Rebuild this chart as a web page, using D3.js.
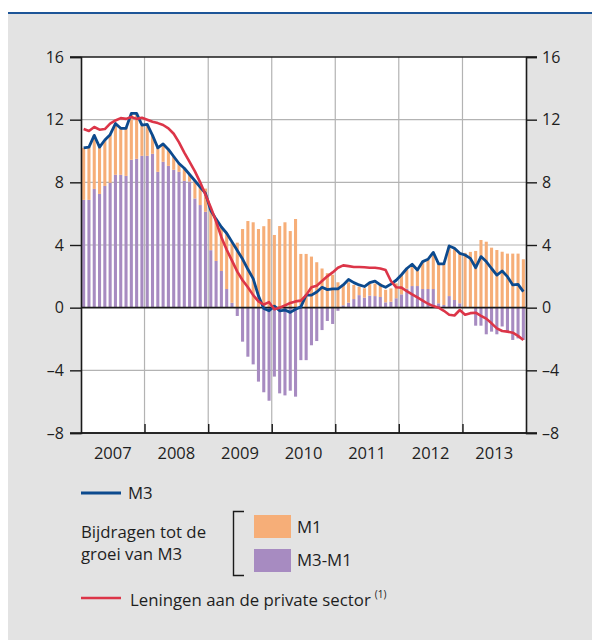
<!DOCTYPE html>
<html>
<head>
<meta charset="utf-8">
<script src="https://cdn.jsdelivr.net/npm/d3@7"></script>
<style>
  body { margin: 0; background: #fff; }
  svg { display: block; font-family: "Open Sans", sans-serif; }
</style>
</head>
<body>
<svg id="chart" width="592" height="640"></svg>
<script>
// jaren op de x-as
const years = [2007, 2008, 2009, 2010, 2011, 2012, 2013];

// bijdrage M1 (maandelijks, jan 2007 - dec 2013)
const m1 = [
  3.32, 3.37, 3.42, 3.0, 2.93, 3.07, 3.32, 3.02, 3.09, 2.96, 2.9, 1.91,
  2.01, 1.22, 1.53, 1.15, 1.03, 0.85, 0.55, 0.81, 0.45, 1.13, 1.15, 1.48,
  2.53, 2.67, 2.81, 3.56, 3.89, 4.15, 5.02, 5.53, 5.45, 5.02, 5.2, 5.66,
  4.64, 5.21, 5.45, 4.89, 5.66, 3.43, 3.43, 3.26, 2.9, 2.5, 2.2, 2.1,
  1.62, 1.35, 1.3, 0.9, 0.54, 0.6, 0.78, 0.8, 0.87, 0.8, 0.85, 0.95,
  1.25, 1.3, 1.4, 1.0, 1.75, 1.9, 2.34, 2.52, 2.63, 3.2, 3.3, 3.19,
  3.47, 3.53, 3.62, 4.32, 4.21, 3.83, 3.68, 3.57, 3.45, 3.45, 3.45, 3.09
];

// bijdrage M3-M1
const m3m1 = [
  6.88, 6.88, 7.58, 7.26, 7.77, 7.97, 8.48, 8.48, 8.41, 9.44, 9.5, 9.69,
  9.69, 9.82, 8.67, 9.31, 9.05, 8.8, 8.67, 8.09, 8.05, 6.97, 6.55, 6.12,
  3.67, 2.98, 2.34, 1.19, 0.31, -0.53, -2.17, -3.13, -3.62, -4.72, -5.4, -5.94,
  -4.4, -5.47, -5.6, -5.3, -5.68, -3.35, -3.35, -2.4, -2.13, -1.43, -0.85, -1.04,
  -0.2, 0.15, 0.32, 0.55, 0.8, 0.64, 0.77, 0.74, 0.68, 0.34, 0.38, 0.6,
  0.85, 1.21, 1.38, 1.38, 1.19, 1.19, 1.19, 0.28, 0.17, 0.74, 0.49, 0.28,
  0.03, 0.03, -1.15, -1.15, -1.7, -1.53, -1.7, -1.2, -1.57, -2.06, -1.96, -2.06
];

// groei M3
const m3 = [
  10.2, 10.25, 11.0, 10.25, 10.7, 11.04, 11.75, 11.45, 11.45, 12.4, 12.4, 11.65,
  11.7, 11.0, 10.2, 10.45, 10.1, 9.65, 9.2, 8.9, 8.5, 8.1, 7.7, 7.3,
  6.2, 5.65, 5.15, 4.75, 4.2, 3.65, 3.1, 2.45, 1.85, 0.75, -0.05, -0.2,
  0.1, -0.2, -0.15, -0.3, -0.1, 0.05, 0.8, 0.8, 1.0, 1.3, 1.15, 1.2,
  1.2, 1.45, 1.8, 1.6, 1.45, 1.35, 1.6, 1.7, 1.45, 1.3, 1.5, 1.75,
  2.1, 2.5, 2.77, 2.4, 2.94, 3.09, 3.53, 2.8, 2.8, 3.94, 3.79, 3.47,
  3.36, 3.15, 2.55, 3.26, 2.94, 2.5, 2.08, 2.34, 1.98, 1.45, 1.49, 1.02
];

// leningen aan de private sector
const loans = [
  11.4, 11.28, 11.53, 11.36, 11.4, 11.75, 11.95, 12.1, 12.05, 12.17, 12.05, 12.12,
  12.0, 11.87, 11.78, 11.66, 11.45, 11.1, 10.55, 9.9, 9.3, 8.7, 8.0, 7.2,
  6.4, 5.5, 4.5, 3.7, 3.0, 2.3, 1.75, 1.3, 0.8, 0.4, 0.2, 0.35,
  -0.1, 0.0, 0.15, 0.3, 0.4, 0.45, 0.8, 1.3, 1.4, 1.7, 2.0, 2.25,
  2.55, 2.7, 2.65, 2.6, 2.6, 2.58, 2.55, 2.55, 2.5, 2.4, 1.7, 1.3,
  1.28, 1.05, 0.85, 0.65, 0.45, 0.25, 0.1, 0.0, -0.2, -0.45, -0.5, -0.15,
  -0.45, -0.35, -0.32, -0.52, -0.7, -1.0, -1.32, -1.49, -1.53, -1.6, -1.8, -2.06
];

const yTicks = [-8, -4, 0, 4, 8, 12, 16];

const COLORS = {
  panel: "#e3e3e3",
  topLine: "#1d5598",
  grid: "#b3b3b3",
  axis: "#1a1a1a",
  text: "#1e1e1e",
  m1: "#f6ae78",
  m3m1: "#a78bc1",
  m3: "#0c4a8e",
  loans: "#dc3548"
};

const svg = d3.select("#chart");
const plot = { left: 81, right: 526, top: 57, bottom: 433 };

// achtergrond
svg.append("rect").attr("width", 592).attr("height", 640).attr("fill", "#fff");
svg.append("rect")
  .attr("x", 8).attr("y", 14).attr("width", 584).attr("height", 626)
  .attr("fill", COLORS.panel);
svg.append("line")
  .attr("x1", 8).attr("x2", 592).attr("y1", 13).attr("y2", 13)
  .attr("stroke", COLORS.topLine).attr("stroke-width", 2);

svg.append("rect")
  .attr("x", plot.left).attr("y", plot.top)
  .attr("width", plot.right - plot.left).attr("height", plot.bottom - plot.top)
  .attr("fill", "#fff");

// schalen
const months = d3.timeMonth.range(new Date(years[0], 0, 1), new Date(years[years.length - 1] + 1, 0, 1));
const x = d3.scaleTime()
  .domain([new Date(years[0], 0, 1), new Date(years[years.length - 1] + 1, 0, 1)])
  .range([plot.left, plot.right]);
const band = d3.scaleBand()
  .domain(d3.range(months.length))
  .range([plot.left, plot.right])
  .paddingInner(0.42)
  .paddingOuter(0.21);
const y = d3.scaleLinear().domain([-8, 16]).range([plot.bottom, plot.top]);

const fmt = d => (d < 0 ? "\u2013" + Math.abs(d) : String(d));

// rasterlijnen
const grid = svg.append("g");
grid.selectAll(".hgrid")
  .data(yTicks.filter(d => d !== 0 && d !== 16 && d !== -8))
  .join("line")
  .attr("x1", plot.left).attr("x2", plot.right)
  .attr("y1", d => y(d)).attr("y2", d => y(d))
  .attr("stroke", COLORS.grid).attr("stroke-width", 1.2);
grid.selectAll(".vgrid")
  .data(years.slice(1))
  .join("line")
  .attr("x1", d => x(new Date(d, 0, 1))).attr("x2", d => x(new Date(d, 0, 1)))
  .attr("y1", plot.top).attr("y2", plot.bottom)
  .attr("stroke", COLORS.grid).attr("stroke-width", 1.2);

// staven
const bars = svg.append("g");
const bw = band.bandwidth();
bars.selectAll(".b31")
  .data(m3m1)
  .join("rect")
  .attr("x", (_, i) => band(i))
  .attr("width", bw)
  .attr("y", d => y(Math.max(0, d)))
  .attr("height", d => Math.abs(y(d) - y(0)))
  .attr("fill", COLORS.m3m1);
bars.selectAll(".b1")
  .data(m1)
  .join("rect")
  .attr("x", (_, i) => band(i))
  .attr("width", bw)
  .attr("y", (d, i) => y(d + Math.max(0, m3m1[i])))
  .attr("height", d => y(0) - y(d))
  .attr("fill", COLORS.m1);

// assen
const axisG = svg.append("g");
axisG.append("line")
  .attr("x1", plot.left).attr("x2", plot.right).attr("y1", y(0)).attr("y2", y(0))
  .attr("stroke", COLORS.axis).attr("stroke-width", 1.6);

const leftAxis = axisG.append("g")
  .attr("transform", `translate(${plot.left},0)`)
  .call(d3.axisLeft(y).tickValues(yTicks).tickSize(11).tickPadding(6).tickFormat(fmt));
const rightAxis = axisG.append("g")
  .attr("transform", `translate(${plot.right},0)`)
  .call(d3.axisRight(y).tickValues(yTicks).tickSize(11).tickPadding(5).tickFormat(fmt));
const bottomAxis = axisG.append("g")
  .attr("transform", `translate(0,${plot.bottom})`)
  .call(d3.axisBottom(x)
    .tickValues(years.slice(1).map(d => new Date(d, 0, 1)))
    .tickSizeInner(-9).tickSizeOuter(0).tickFormat(""));

[leftAxis, rightAxis, bottomAxis].forEach(g => {
  g.select(".domain").attr("stroke", COLORS.axis).attr("stroke-width", 1.6);
  g.selectAll(".tick line").attr("stroke", COLORS.axis).attr("stroke-width", 1.4);
  g.selectAll("text")
    .attr("fill", COLORS.text)
    .style("font-size", "16px")
    .style("font-family", "'Open Sans', sans-serif");
});
bottomAxis.select(".domain").attr("d", `M${plot.left},0H${plot.right}`);
axisG.append("line")
  .attr("x1", plot.left - 11).attr("x2", plot.right + 11).attr("y1", plot.top).attr("y2", plot.top)
  .attr("stroke", COLORS.axis).attr("stroke-width", 1.6);
axisG.append("line")
  .attr("x1", plot.left - 11).attr("x2", plot.right + 11).attr("y1", plot.bottom).attr("y2", plot.bottom)
  .attr("stroke", COLORS.axis).attr("stroke-width", 1.6);

// jaarlabels in het midden van elk jaar
axisG.selectAll(".year")
  .data(years)
  .join("text")
  .attr("x", d => (x(new Date(d, 0, 1)) + x(new Date(d + 1, 0, 1))) / 2)
  .attr("y", 459)
  .attr("text-anchor", "middle")
  .attr("fill", COLORS.text)
  .style("font-size", "16.5px")
  .text(d => d);

// lijnen
const line = d3.line()
  .x((_, i) => band(i) + bw / 2)
  .y(d => y(d));
svg.append("path")
  .datum(m3)
  .attr("d", line)
  .attr("fill", "none")
  .attr("stroke", COLORS.m3)
  .attr("stroke-width", 2.8)
  .attr("stroke-linejoin", "round");
svg.append("path")
  .datum(loans)
  .attr("d", line)
  .attr("fill", "none")
  .attr("stroke", COLORS.loans)
  .attr("stroke-width", 2.6)
  .attr("stroke-linejoin", "round");

// legenda
const legend = svg.append("g")
  .attr("fill", COLORS.text)
  .style("font-size", "16.8px");

legend.append("line")
  .attr("x1", 81).attr("x2", 121).attr("y1", 493).attr("y2", 493)
  .attr("stroke", COLORS.m3).attr("stroke-width", 2.8);
legend.append("text").attr("x", 128).attr("y", 499).text("M3");

legend.append("text").attr("x", 81).attr("y", 538).text("Bijdragen tot de");
legend.append("text").attr("x", 81).attr("y", 560).text("groei van M3");

legend.append("path")
  .attr("d", "M244,511.5H233.5V575.5H244")
  .attr("fill", "none").attr("stroke", COLORS.axis).attr("stroke-width", 1.4);

legend.append("rect")
  .attr("x", 254).attr("y", 515).attr("width", 37).attr("height", 23)
  .attr("fill", COLORS.m1);
legend.append("text").attr("x", 297).attr("y", 533).text("M1");
legend.append("rect")
  .attr("x", 254).attr("y", 549).attr("width", 37).attr("height", 23)
  .attr("fill", COLORS.m3m1);
legend.append("text").attr("x", 297).attr("y", 566).text("M3-M1");

legend.append("line")
  .attr("x1", 81).attr("x2", 121).attr("y1", 598).attr("y2", 598)
  .attr("stroke", COLORS.loans).attr("stroke-width", 2.6);
const lt = legend.append("text").attr("x", 130).attr("y", 606);
lt.append("tspan").text("Leningen aan de private sector");
lt.append("tspan").attr("dx", 4).attr("dy", -8).style("font-size", "10px").text("(1)");
</script>
</body>
</html>
